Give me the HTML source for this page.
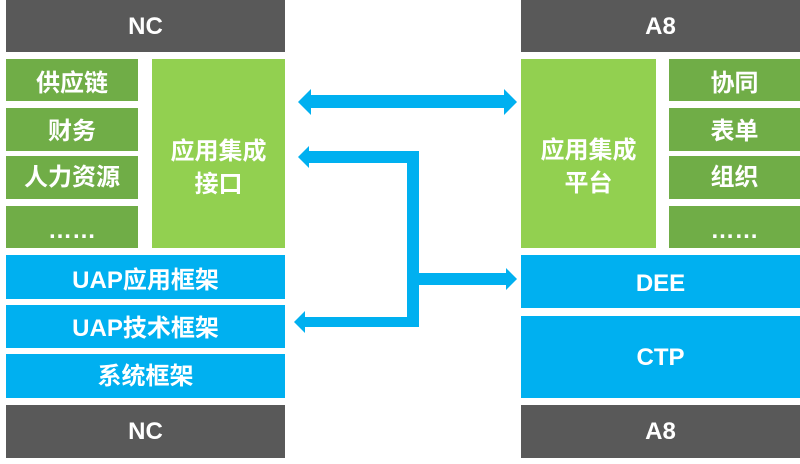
<!DOCTYPE html><html><head><style>
body{margin:0;width:800px;height:464px;background:#fff;position:relative;overflow:hidden;font-family:"Liberation Sans","Noto Sans CJK SC",sans-serif;font-weight:bold;color:#fff}
.b{position:absolute;display:flex;align-items:center;justify-content:center;text-align:center;font-size:24px;line-height:33px;box-sizing:border-box}
.d{background:#595959}.g{background:#70ad47}.G{background:#92d050}.u{background:#00b0f0}
</style></head><body>
<div class="b d" style="left:6px;top:0;width:279px;height:52px">NC</div>
<div class="b g" style="left:6px;top:59px;width:132px;height:42px;padding-top:6px">供应链</div>
<div class="b g" style="left:6px;top:108px;width:132px;height:43px;padding-top:4px">财务</div>
<div class="b g" style="left:6px;top:156px;width:132px;height:43px">人力资源</div>
<div class="b g" style="left:6px;top:206px;width:132px;height:42px;padding-top:6px">……</div>
<div class="b G" style="left:152px;top:59px;width:133px;height:189px;padding-top:28px">应用集成<br>接口</div>
<div class="b u" style="left:6px;top:255px;width:279px;height:44px;padding-top:6px">UAP应用框架</div>
<div class="b u" style="left:6px;top:305px;width:279px;height:43px;padding-top:4px">UAP技术框架</div>
<div class="b u" style="left:6px;top:354px;width:279px;height:44px">系统框架</div>
<div class="b d" style="left:6px;top:405px;width:279px;height:53px">NC</div>
<div class="b d" style="left:521px;top:0;width:279px;height:52px">A8</div>
<div class="b G" style="left:521px;top:59px;width:135px;height:189px;padding-top:26px">应用集成<br>平台</div>
<div class="b g" style="left:669px;top:59px;width:131px;height:42px;padding-top:6px">协同</div>
<div class="b g" style="left:669px;top:108px;width:131px;height:43px;padding-top:4px">表单</div>
<div class="b g" style="left:669px;top:156px;width:131px;height:43px">组织</div>
<div class="b g" style="left:669px;top:206px;width:131px;height:42px;padding-top:6px">……</div>
<div class="b u" style="left:521px;top:255px;width:279px;height:53px;padding-top:4px">DEE</div>
<div class="b u" style="left:521px;top:316px;width:279px;height:82px">CTP</div>
<div class="b d" style="left:521px;top:405px;width:279px;height:53px">A8</div>
<svg style="position:absolute;left:0;top:0" width="800" height="464">
<g fill="#00b0f0">
<polygon points="298,102 311,89 311,95 504,95 504,89 517,102 504,115 504,108 311,108 311,115"/>
<polygon points="298,157 309,146 309,151 419,151 419,273 506,273 506,268 517,279 506,290 506,285 419,285 419,327 305,327 305,333 294,322 305,311 305,317 407,317 407,163 309,163 309,168"/>
</g></svg>
</body></html>
